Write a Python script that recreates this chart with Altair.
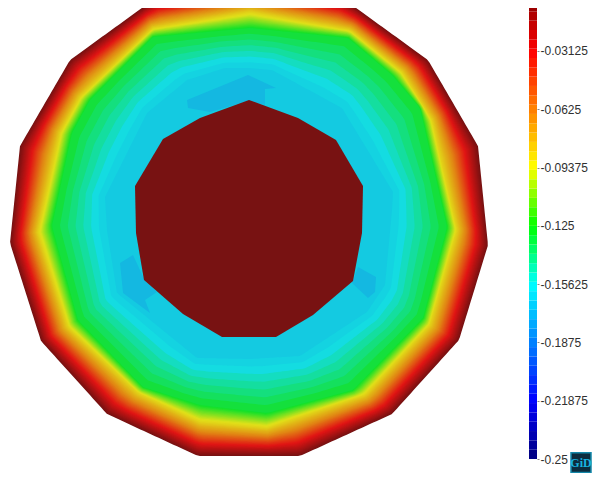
import numpy as np
import altair as alt

# Contour polygons (reference pixels), with their level
outer = [(250,-18),(345,0),(428,60),(478,146),(488,245),(459,340),(392,414),(300,456),(198,456),(107,414),(41,341),(10,243),(20,146),(70,60),(153,0)]
yellow = [(250,12),(350,30),(402,72),(432,120),(457,230),(430,325),(365,395),(267,428),(200,422),(138,393),(68,327),(38,232),(60,133),(80,97),(153,28)]
green = [(250,28),(348,38),(392,75),(420,108),(447,227),(423,318),(353,390),(267,413),(200,405),(143,387),(78,320),(52,226),(72,133),(90,100),(153,37)]
blue1 = [(250,68),(272,70),(342,108),(393,192),(392,210),(385,285),(367,312),(300,356),(250,359),(197,358),(117,293),(107,230),(105,197),(147,113),(187,80),(225,68)]
key_levels = [0.0, -0.09, -0.125, -0.16]
key_polys = [outer, yellow, green, blue1]

patch_top = [(187,100),(188,108),(210,112),(248,101),(265,105),(265,89),(276,88),(248,75)]
patch_left = [(120,263),(133,255),(145,281),(157,292),(145,300),(150,313),(123,293)]
patch_right = [(358,267),(376,277),(375,292),(368,298),(352,283)]
patch_level = -0.17
hole = [(249,100),(298,118),(336,140),(363,186),(362,233),(353,281),(313,315),(276,337),(222,337),(183,314),(144,280),(136,233),(135,186),(163,139),(200,118)]
hole_level = 0.0

# Colour bar
tick_values = [-0.03125,-0.0625,-0.09375,-0.125,-0.15625,-0.1875,-0.21875,-0.25]
stop_levels = [-0.25,-0.21875,-0.1875,-0.15625,-0.125,-0.09375,-0.0625,-0.03125,0.0]
bar_colors = ["#00007d","#0000ff","#0080ff","#00ffff","#00ff00","#ffff00","#ff8000","#ff0000","#7d0000"]
map_stops = [-0.25,-0.22,-0.2,-0.15,-0.122,-0.09375,-0.0625,-0.03125,0.0]
map_colors = ["#14148c","#1414e0","#1482e1","#14dce1","#14e128","#e1e119","#e18714","#e11414","#781212"]
band_step = 0.005
fine_step = 0.0025
y_top, y_bottom = -0.0082, -0.2575

center = (249.0, 225.0)
spokes = np.linspace(-np.pi, np.pi, 360, endpoint=False)

def radii(poly):
    p = np.array(poly + poly[:1], dtype=float)
    t = np.linspace(0, 1, 40, endpoint=False)[:, None, None]
    dense = (p[:-1] * (1 - t) + p[1:] * t).reshape(-1, 2) - center
    ang = np.arctan2(dense[:, 1], dense[:, 0])
    return np.interp(spokes, ang, np.hypot(dense[:, 0], dense[:, 1]), period=2 * np.pi)

def feature(coords, level):
    ring = [[float(x), float(y)] for x, y in coords]
    ring.append(ring[0])
    return {"type": "Feature", "properties": {"level": level},
            "geometry": {"type": "Polygon", "coordinates": [ring]}}

key_r = np.array([radii(p) for p in key_polys])
features = []
levels = [-i * fine_step for i in range(50)] + [-0.125 - i * band_step for i in range(8)]
for lev in levels:
    r = np.array([np.interp(-lev, np.abs(key_levels), key_r[:, k]) for k in range(len(spokes))])
    pts = np.column_stack([center[0] + r * np.cos(spokes), center[1] + r * np.sin(spokes)])
    features.append(feature(pts, lev))
for patch in (patch_top, patch_left, patch_right):
    features.append(feature(patch, patch_level))
features.append(feature(hole, hole_level))

field = (
    alt.Chart(alt.Data(values=features))
    .mark_geoshape(strokeWidth=0)
    .encode(color=alt.Color("properties.level:Q", legend=None,
                            scale=alt.Scale(domain=map_stops, range=map_colors, interpolate="rgb")))
    .project(type="identity", scale=1, translate=[-8, -8])
)

bands = [{"a": -0.25 + i * band_step, "b": -0.25 + (i + 1) * band_step, "m": -0.25 + (i + 0.5) * band_step}
         for i in range(50)]
yscale = alt.Scale(domain=[y_bottom, y_top], nice=False, zero=False)
bar = (
    alt.Chart(alt.Data(values=bands))
    .mark_rect(clip=True)
    .encode(
        x=alt.value(521), x2=alt.value(529),
        y=alt.Y("a:Q", scale=yscale, title=None,
                axis=alt.Axis(orient="right", offset=-55, values=tick_values, labelExpr="''+datum.value",
                              domain=False, grid=False, tickSize=2, tickColor="#888888", labelPadding=1,
                              labelFont="Liberation Sans", labelFontSize=12, labelColor="#303030",
                              labelOverlap=False, labelFlush=False)),
        y2="b:Q",
        color=alt.Color("m:Q", legend=None, scale=alt.Scale(domain=stop_levels, range=bar_colors, interpolate="rgb")),
    )
)
logo = (
    alt.Chart(alt.Data(values=[{"a": -0.2467, "b": -0.2572}]))
    .mark_rect(fill="#0c2c3e", stroke="#1488aa", strokeWidth=1.5)
    .encode(x=alt.value(563), x2=alt.value(583), y=alt.Y("a:Q", scale=yscale), y2="b:Q")
)
logo_text = (
    alt.Chart(alt.Data(values=[{"a": -0.2521, "t": "GiD"}]))
    .mark_text(font="Liberation Sans Narrow", fontSize=12, fontWeight="bold", color="#18b4e0", align="center", baseline="middle")
    .encode(x=alt.value(573), y=alt.Y("a:Q", scale=yscale), text="t:N")
)

chart = (
    alt.layer(field, bar, logo, logo_text)
    .resolve_scale(color="independent")
    .properties(width=584, height=465, padding=0, background="white",
                autosize=alt.AutoSizeParams(type="none"))
    .configure_view(stroke=None)
)
chart.save("out.html", embed_options={"renderer": "svg", "actions": False})
